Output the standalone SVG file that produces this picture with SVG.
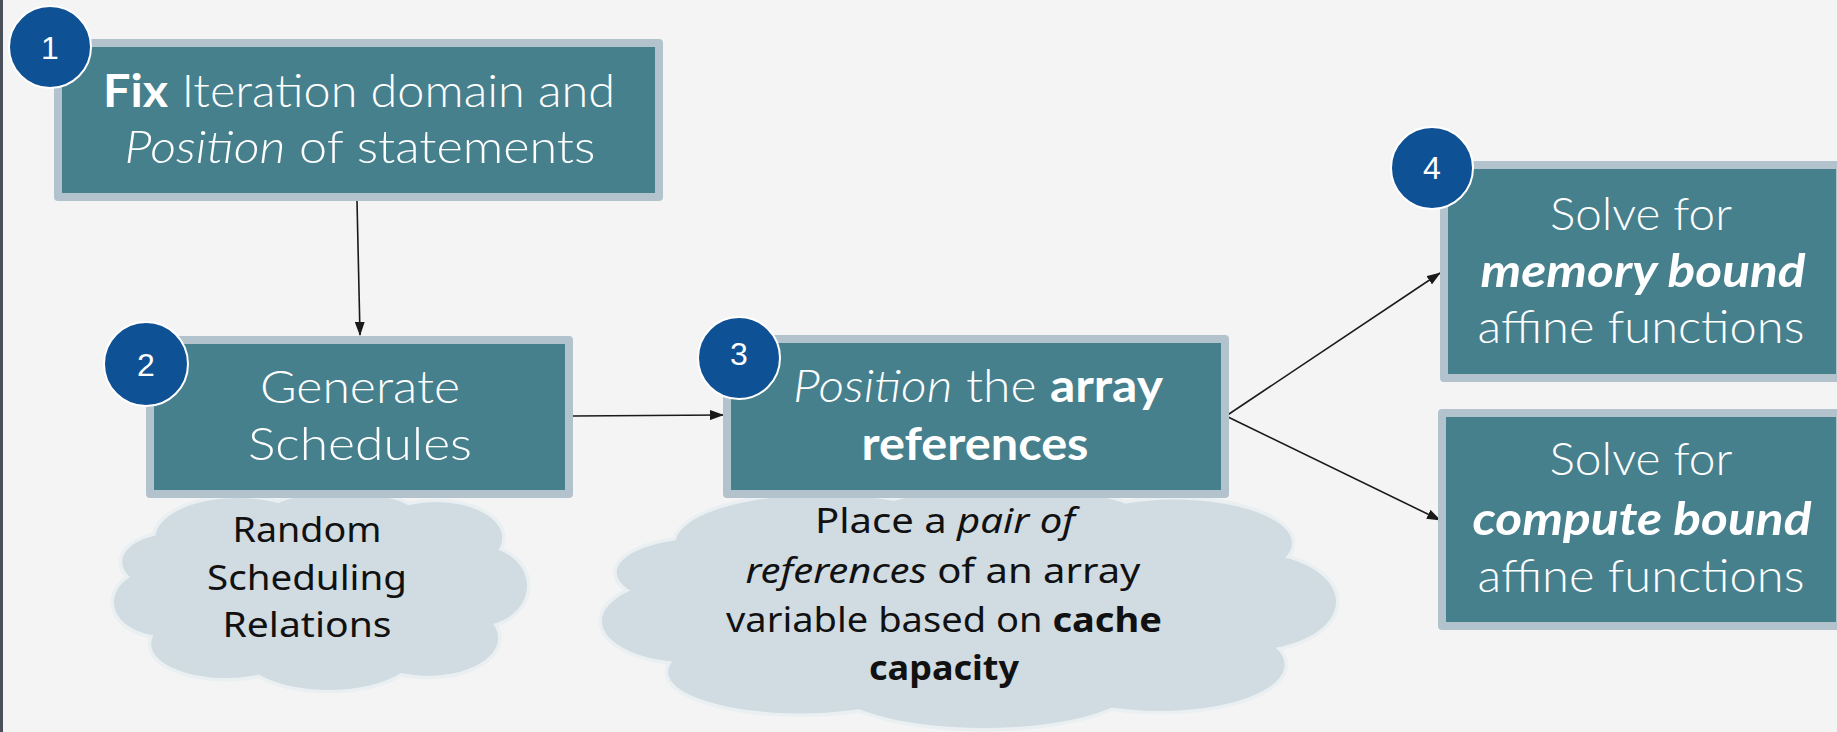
<svg xmlns="http://www.w3.org/2000/svg" width="1837" height="732" viewBox="0 0 1837 732">
<style>
.box{fill:#47808d;stroke:#b3c3cd;stroke-width:8;stroke-linejoin:round}
.badge{fill:#0e5195;stroke:#ffffff;stroke-width:2}
.num{fill:#ffffff;font-family:"Liberation Sans",Arial,sans-serif;font-size:32px;text-anchor:middle}
.bt{fill:#ffffff;font-family:Lato,"Open Sans",sans-serif;font-size:46px;font-weight:300;text-anchor:middle}
.ct{fill:#111111;font-family:"Noto Sans","Open Sans",sans-serif;font-size:34px;font-weight:400;text-anchor:middle}
.b{font-weight:700}
.i{font-style:italic}
#cloudshape ellipse{vector-effect:non-scaling-stroke}
.cl-o{fill:#e9eef1;stroke:#eaeff2;stroke-width:7}
.cl-f{fill:#d0dbe2}
.conn{stroke:#1a1a1a;stroke-width:1.6;fill:none;marker-end:url(#ah)}
</style>
<defs>
<marker id="ah" markerUnits="userSpaceOnUse" markerWidth="14" markerHeight="10" refX="13" refY="5" orient="auto">
<path d="M0,0 L14,5 L0,10 Z" fill="#1a1a1a"/>
</marker>
<g id="cloudshape">
<ellipse cx="30" cy="24" rx="20" ry="20"/>
<ellipse cx="55" cy="17" rx="20" ry="16"/>
<ellipse cx="78" cy="24" rx="16" ry="18"/>
<ellipse cx="88" cy="48" rx="12" ry="20"/>
<ellipse cx="76" cy="74" rx="17" ry="19"/>
<ellipse cx="52" cy="81" rx="21" ry="19"/>
<ellipse cx="27" cy="77" rx="18" ry="17"/>
<ellipse cx="12" cy="56" rx="12" ry="17"/>
<ellipse cx="14" cy="36" rx="12" ry="14"/>
<ellipse cx="50" cy="50" rx="38" ry="33"/>
</g>
</defs>
<rect x="0" y="0" width="1837" height="732" fill="#f4f4f4"/>
<rect x="0" y="0" width="3" height="732" fill="#4a4f5a"/>

<g id="cloud2">
<use href="#cloudshape" class="cl-o" transform="translate(114,490) scale(4.13,2.0)"/>
<use href="#cloudshape" class="cl-f" transform="translate(114,490) scale(4.13,2.0)"/>
</g>
<g id="cloud3">
<use href="#cloudshape" class="cl-o" transform="translate(602,485) scale(7.34,2.43)"/>
<use href="#cloudshape" class="cl-f" transform="translate(602,485) scale(7.34,2.43)"/>
</g>

<g id="connectors">
<line class="conn" x1="357" y1="201" x2="360" y2="335"/>
<line class="conn" x1="573" y1="416" x2="723" y2="415"/>
<line class="conn" x1="1226" y1="416" x2="1440" y2="273"/>
<line class="conn" x1="1226" y1="416" x2="1440" y2="520"/>
</g>

<g id="node1">
<rect class="box" x="58" y="43" width="601" height="154"/>
<text class="bt" x="359" y="107" textLength="512" lengthAdjust="spacingAndGlyphs"><tspan class="b">Fix</tspan> Iteration domain and</text>
<text class="bt" x="360" y="163" textLength="471" lengthAdjust="spacingAndGlyphs"><tspan class="i">Position</tspan> of statements</text>
</g>
<g id="node2">
<rect class="box" x="150" y="340" width="419" height="154"/>
<text class="bt" x="360" y="403" textLength="200" lengthAdjust="spacingAndGlyphs">Generate</text>
<text class="bt" x="360" y="460" textLength="224" lengthAdjust="spacingAndGlyphs">Schedules</text>
</g>
<g id="node2note">
<text class="ct" x="307" y="542" textLength="149" lengthAdjust="spacingAndGlyphs">Random</text>
<text class="ct" x="307" y="590" textLength="200" lengthAdjust="spacingAndGlyphs">Scheduling</text>
<text class="ct" x="307" y="637" textLength="169" lengthAdjust="spacingAndGlyphs">Relations</text>
</g>
<g id="node3">
<rect class="box" x="727" y="339" width="498" height="155"/>
<text class="bt" x="978" y="402" textLength="370" lengthAdjust="spacingAndGlyphs"><tspan class="i">Position</tspan> the <tspan class="b">array</tspan></text>
<text class="bt b" x="975" y="460" textLength="227" lengthAdjust="spacingAndGlyphs">references</text>
</g>
<g id="node3note">
<text class="ct" x="945" y="533" textLength="260" lengthAdjust="spacingAndGlyphs">Place a <tspan class="i">pair of</tspan></text>
<text class="ct" x="943" y="583" textLength="395" lengthAdjust="spacingAndGlyphs"><tspan class="i">references</tspan> of an array</text>
<text class="ct" x="944" y="632" textLength="436" lengthAdjust="spacingAndGlyphs">variable based on <tspan class="b">cache</tspan></text>
<text class="ct b" x="944" y="680" textLength="150" lengthAdjust="spacingAndGlyphs">capacity</text>
</g>
<g id="node4a">
<rect class="box" x="1444" y="165" width="396" height="213"/>
<text class="bt" x="1641" y="230" textLength="182" lengthAdjust="spacingAndGlyphs">Solve for</text>
<text class="bt b i" x="1643" y="287" textLength="325" lengthAdjust="spacingAndGlyphs">memory bound</text>
<text class="bt" x="1641" y="343" textLength="327" lengthAdjust="spacingAndGlyphs">affine functions</text>
</g>
<g id="node4b">
<rect class="box" x="1442" y="413" width="398" height="213"/>
<text class="bt" x="1641" y="475" textLength="183" lengthAdjust="spacingAndGlyphs">Solve for</text>
<text class="bt b i" x="1642" y="535" textLength="339" lengthAdjust="spacingAndGlyphs">compute bound</text>
<text class="bt" x="1641" y="592" textLength="327" lengthAdjust="spacingAndGlyphs">affine functions</text>
</g>

<g id="badge1"><circle class="badge" cx="50" cy="47" r="41"/><text class="num" x="50" y="59">1</text></g>
<g id="badge2"><circle class="badge" cx="146" cy="364" r="42"/><text class="num" x="146" y="376">2</text></g>
<g id="badge3"><circle class="badge" cx="739" cy="358" r="41"/><text class="num" x="739" y="365">3</text></g>
<g id="badge4"><circle class="badge" cx="1432" cy="168" r="41"/><text class="num" x="1432" y="179">4</text></g>
</svg>
